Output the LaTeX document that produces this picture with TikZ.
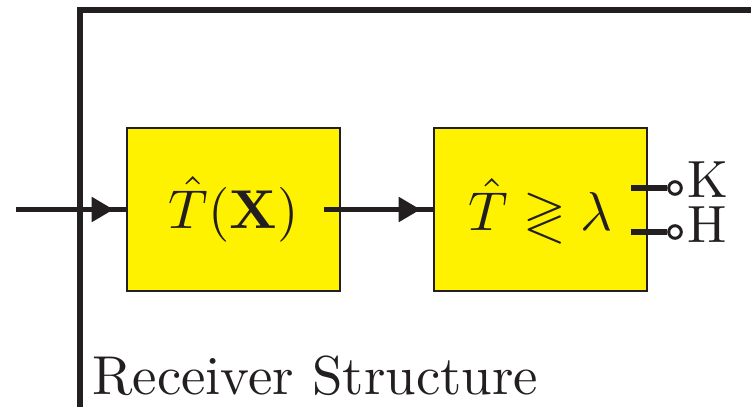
\documentclass[tikz,border=0pt]{standalone}
\usepackage{graphicx}
\usepackage{amsmath,amssymb}
\usetikzlibrary{arrows.meta,calc}
\definecolor{ink}{RGB}{35,31,32}
\definecolor{boxyellow}{RGB}{255,242,0}
\newcommand{\bigtxt}[1]{\scalebox{2.74}{#1}}
\newcommand{\midtxt}[1]{\scalebox{2.62}{#1}}
\begin{document}
\begin{tikzpicture}[x=0.5pt,y=-0.5pt,
  frame/.style={draw=ink, line width=3pt, line join=miter},
  block/.style={draw=ink, fill=boxyellow, line width=1.4pt, minimum width=106.5pt,
    minimum height=81.5pt, inner sep=0pt, text=ink},
  sig/.style={draw=ink, line width=2.7pt},
  tipped/.style={-{Triangle[length=11pt 0, width=12pt 0]}},
  port/.style={circle, draw=ink, fill=white, line width=1.5pt, minimum size=6.3pt, inner sep=0pt},
  lbl/.style={inner sep=0pt, text=ink, anchor=base west}]
\useasboundingbox (0,0) rectangle (751,407);
% frame
\coordinate (fb) at (80,410);
\coordinate (fc) at (80,10);
\coordinate (fr) at (755,10);
\draw[frame] (fb) -- (fc) -- (fr);
% blocks
\node[block] (tx) at (233.5,209.5) {\bigtxt{$\hat{T}(\mathbf{X})$}};
\node[block] (dec) at (540.5,209.5) {\bigtxt{$\hat{T}\gtrless\lambda$}};
% input
\coordinate (src) at (16,209.5);
\draw[sig] (src) -- (tx.west);
\draw[sig, tipped] (src) -- ($(tx.west)+(-12,0)$);
% between blocks
\coordinate (mid) at ($(tx.east)+(-17,0)$);
\draw[sig] (mid) -- (dec.west);
\draw[sig, tipped] (mid) -- ($(dec.west)+(-12,0)$);
% outputs
\coordinate (kout) at (631,188);
\coordinate (hout) at (631,232);
\node[port] (k) at (675,188) {};
\node[port] (h) at (675,232) {};
\draw[sig] (kout) -- (k);
\draw[sig] (hout) -- (h);
\node[lbl] (kl) at (687,197) {\midtxt{K}};
\node[lbl] (hl) at (687,242) {\midtxt{H}};
% caption
\node[lbl] (rs) at (92,394) {\bigtxt{Receiver Structure}};
\end{tikzpicture}
\end{document}
